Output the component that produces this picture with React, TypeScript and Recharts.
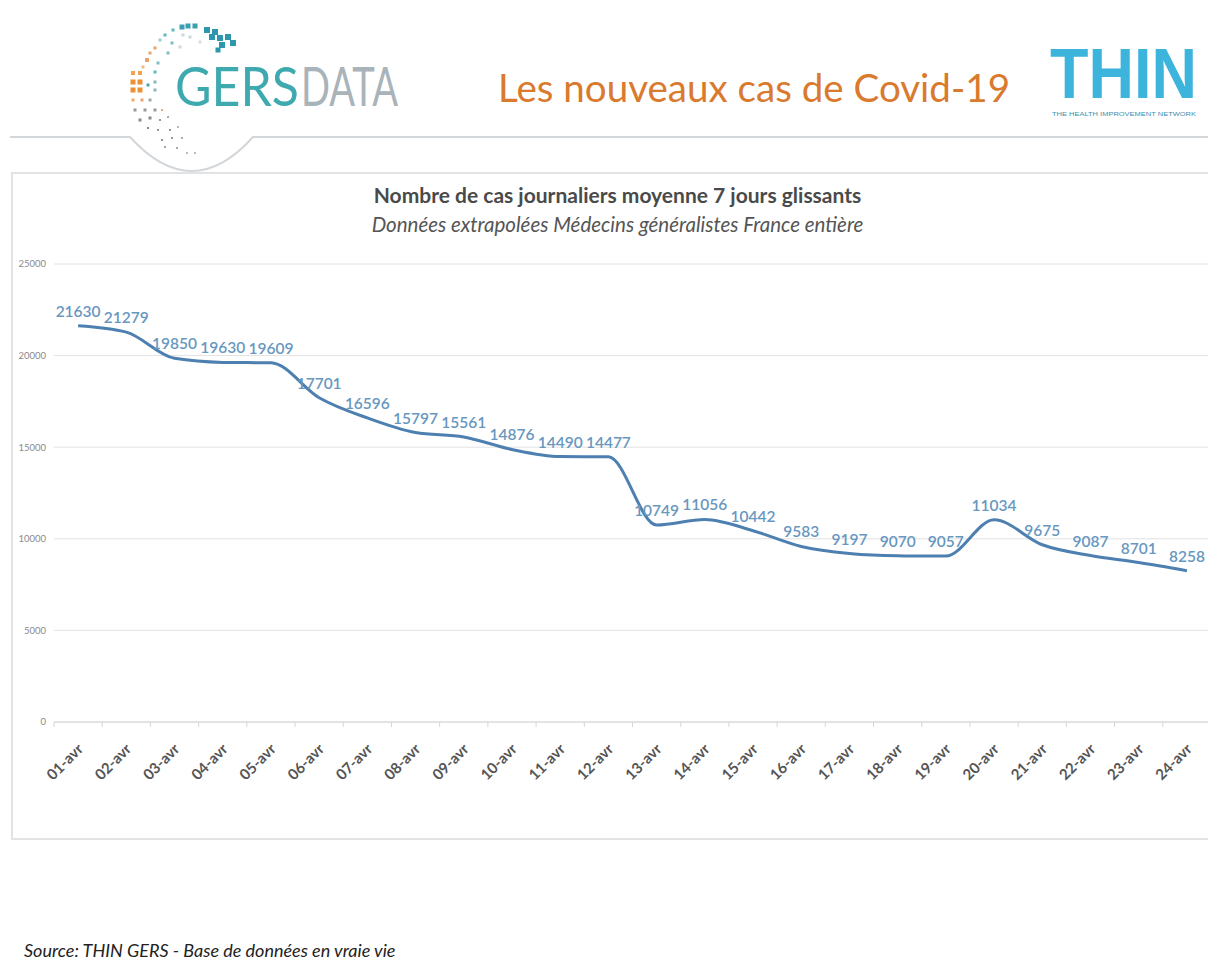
import React from 'react';
import { LineChart, Line, XAxis, YAxis, CartesianGrid, LabelList } from 'recharts';

// daily cases, 7-day rolling average
const days = [
  '01-avr', '02-avr', '03-avr', '04-avr', '05-avr', '06-avr', '07-avr', '08-avr',
  '09-avr', '10-avr', '11-avr', '12-avr', '13-avr', '14-avr', '15-avr', '16-avr',
  '17-avr', '18-avr', '19-avr', '20-avr', '21-avr', '22-avr', '23-avr', '24-avr'
];
const cases = [
  21630, 21279, 19850, 19630, 19609, 17701, 16596, 15797,
  15561, 14876, 14490, 14477, 10749, 11056, 10442, 9583,
  9197, 9070, 9057, 11034, 9675, 9087, 8701, 8258
];
const yTicks = [0, 5000, 10000, 15000, 20000, 25000];

const data = days.map((day, i) => ({ day, cases: cases[i] }));

const CHART_W = 1211;
const MARGIN_L = 10;
const Y_AXIS_W = 44;
const HALF_BAND = (CHART_W - MARGIN_L - Y_AXIS_W) / days.length / 2;

// logo dots: [x, y, size, colour]
const logoDots: [number, number, number, string][] = [
  [182, 27, 5, '#3a9fb0'], [188, 26, 5, '#3a9fb0'], [195, 26, 5, '#3a9fb0'], [207, 30, 6, '#2f97ad'],
  [215, 32, 6, '#2f97ad'], [212, 37, 6, '#2f97ad'], [220, 38, 6, '#2f97ad'], [228, 37, 6, '#2f97ad'],
  [233, 43, 6, '#2f97ad'], [222, 45, 6, '#2f97ad'], [218, 50, 5, '#2f97ad'],
  [173, 30, 3, '#5fb8bf'], [165, 35, 3, '#5fb8bf'], [160, 40, 3, '#9ccfd2'], [183, 35, 3, '#c9d8dc'],
  [190, 37, 3, '#c9d8dc'], [200, 42, 3, '#d8dde0'], [172, 43, 3, '#7cc0c6'], [180, 47, 3, '#d0d8da'],
  [168, 53, 3, '#7cc0c6'], [155, 48, 3, '#e8a36b'], [150, 53, 3, '#e8a36b'], [147, 60, 4, '#e8a36b'],
  [143, 67, 3, '#f0b98a'], [158, 63, 3, '#7cc0c6'], [155, 72, 3, '#5fb8bf'],
  [133, 73, 4, '#f2a154'], [140, 73, 4, '#f2a154'], [133, 82, 5, '#ee8f35'], [140, 82, 5, '#ee8f35'],
  [133, 90, 5, '#ee8f35'], [140, 90, 5, '#ee8f35'], [148, 85, 3, '#4aa5ad'], [155, 82, 3, '#8ab6bb'],
  [155, 90, 3, '#8ab6bb'],
  [133, 100, 3, '#f0a868'], [142, 100, 3, '#e7a46f'], [150, 100, 3, '#9aa'], [135, 110, 3, '#999'],
  [145, 110, 3, '#999'], [155, 110, 3, '#999'], [162, 110, 2, '#e5a878'], [140, 120, 3, '#888'],
  [150, 118, 3, '#888'], [160, 120, 2, '#999'], [168, 117, 2, '#aaa'], [148, 128, 2, '#888'],
  [158, 130, 2, '#999'], [170, 130, 2, '#999'], [178, 127, 2, '#bbb'], [162, 140, 2, '#999'],
  [172, 138, 2, '#999'], [182, 138, 2, '#aaa'], [165, 147, 2, '#aaa'], [177, 148, 2, '#aaa'],
  [187, 153, 2, '#bbb'], [195, 153, 2, '#bbb']
];

const DayTick = (props: any) => {
  const { x, y, payload } = props;
  const ax = x + 6;
  const ay = y + 28;
  return (
    <g>
      <line x1={x - HALF_BAND} y1={y} x2={x - HALF_BAND} y2={y + 5} stroke="#d6d6d6" />
      <text
        x={ax}
        y={ay}
        transform={`rotate(-45, ${ax}, ${ay})`}
        textAnchor="end"
        fill="#555"
        fontSize={15}
        fontWeight="bold"
        fontFamily="Lato, sans-serif"
      >
        {payload.value}
      </text>
    </g>
  );
};

export default function App() {
  return (
    <div
      style={{
        position: 'fixed',
        left: 0,
        top: 0,
        width: 1208,
        height: 963,
        overflow: 'hidden',
        background: '#fff',
        fontFamily: 'Lato, sans-serif'
      }}
    >
      {/* header */}
      <svg width={1208} height={175} style={{ position: 'absolute', left: 0, top: 0 }}>
        <path d="M10 137 H130 Q192 205 253 137 H1208" fill="none" stroke="#d3d7da" strokeWidth={2} />
        {logoDots.map(([x, y, s, c], i) => (
          <rect key={i} x={x - s / 2} y={y - s / 2} width={s} height={s} fill={c} />
        ))}
        <text x={175} y={106} fontSize={55} fill="#3fa9b0" textLength={124} lengthAdjust="spacingAndGlyphs">
          GERS
        </text>
        <text x={301} y={106} fontSize={55} fill="#a9b3ba" textLength={97} lengthAdjust="spacingAndGlyphs">
          DATA
        </text>
        <text x={498} y={102} fontSize={38} fill="#d97a2e" textLength={512} lengthAdjust="spacingAndGlyphs">
          Les nouveaux cas de Covid-19
        </text>
        <text
          transform="translate(1050, 98) scale(1, 1.12)"
          x={0}
          y={0}
          fontSize={63}
          fontWeight="bold"
          fontFamily="'Liberation Sans', Arial, sans-serif"
          fill="#3db4dc"
        >
          THIN
        </text>
        <text
          x={1052}
          y={116}
          fontSize={5.5}
          fill="#3d8fae"
          fontFamily="'Liberation Sans', Arial, sans-serif"
          textLength={144}
          lengthAdjust="spacingAndGlyphs"
        >
          THE HEALTH IMPROVEMENT NETWORK
        </text>
      </svg>

      {/* chart frame */}
      <div
        style={{
          position: 'absolute',
          left: 11,
          top: 172,
          width: 1210,
          height: 668,
          border: '2px solid #e3e3e3',
          boxSizing: 'border-box'
        }}
      />
      <div
        style={{
          position: 'absolute',
          left: 0,
          width: 1235,
          top: 182,
          textAlign: 'center',
          fontSize: 21,
          fontWeight: 'bold',
          color: '#4a4a4a'
        }}
      >
        Nombre de cas journaliers moyenne 7 jours glissants
      </div>
      <div
        style={{
          position: 'absolute',
          left: 0,
          width: 1235,
          top: 212,
          textAlign: 'center',
          fontSize: 20.5,
          fontStyle: 'italic',
          color: '#555'
        }}
      >
        Données extrapolées Médecins généralistes France entière
      </div>

      <div style={{ position: 'absolute', left: 0, top: 240 }}>
        <LineChart
          width={CHART_W}
          height={562}
          data={data}
          margin={{ top: 24, right: 0, left: MARGIN_L, bottom: 0 }}
        >
          <CartesianGrid vertical={false} stroke="#e2e2e2" />
          <XAxis
            dataKey="day"
            interval={0}
            height={80}
            padding={{ left: HALF_BAND, right: HALF_BAND }}
            tickSize={0}
            tickMargin={0}
            tickLine={false}
            axisLine={{ stroke: '#d6d6d6' }}
            tick={<DayTick />}
          />
          <YAxis
            width={Y_AXIS_W}
            domain={[0, 25000]}
            ticks={yTicks}
            axisLine={false}
            tickLine={false}
            tick={{ fill: '#8a8a8a', fontSize: 9.5, fontFamily: 'Lato, sans-serif' }}
          />
          <Line
            type="monotone"
            dataKey="cases"
            stroke="#4d80b0"
            strokeWidth={3}
            dot={false}
            isAnimationActive={false}
          >
            <LabelList
              dataKey="cases"
              position="top"
              offset={9}
              fill="#6897bf"
              fontSize={15.5}
              fontWeight={600}
              fontFamily="Lato, sans-serif"
            />
          </Line>
        </LineChart>
      </div>

      <div
        style={{
          position: 'absolute',
          left: 24,
          top: 939,
          fontSize: 18,
          fontStyle: 'italic',
          color: '#222'
        }}
      >
        Source: THIN GERS - Base de données en vraie vie
      </div>
    </div>
  );
}
